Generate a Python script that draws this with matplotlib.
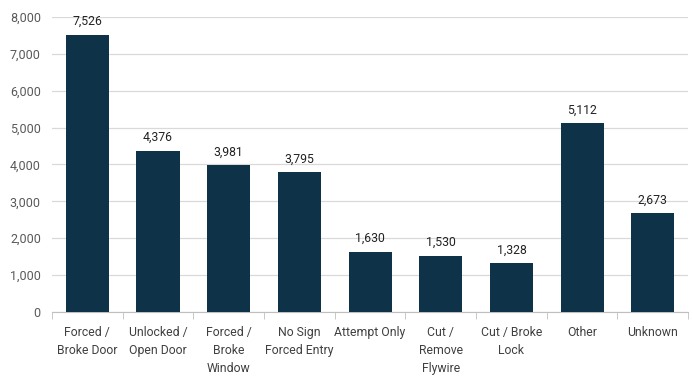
import matplotlib.pyplot as plt
from matplotlib.ticker import FuncFormatter

# Data
categories = ['Forced /\nBroke Door', 'Unlocked /\nOpen Door', 'Forced /\nBroke\nWindow',
              'No Sign\nForced Entry', 'Attempt Only', 'Cut /\nRemove\nFlywire',
              'Cut / Broke\nLock', 'Other', 'Unknown']
counts = [7526, 4376, 3981, 3795, 1630, 1530, 1328, 5112, 2673]

plt.rcParams['font.family'] = ['Roboto', 'DejaVu Sans']

fig = plt.figure(figsize=(6.93, 3.87), dpi=100)
ax = fig.add_axes([0.075, 0.194, 0.918, 0.762])

x = list(range(len(categories)))
bars = ax.bar(x, counts, width=0.61, color='#0e3349', zorder=3)

for xi, v in zip(x, counts):
    ax.text(xi, v + 180, '{:,}'.format(v), ha='center', va='bottom',
            fontsize=8.8, color='#222222')

ax.set_xlim(-0.5, len(categories) - 0.5)
ax.set_ylim(0, 8000)
ax.set_yticks(range(0, 8001, 1000))
ax.yaxis.set_major_formatter(FuncFormatter(lambda v, p: '{:,}'.format(int(v))))
ax.grid(axis='y', color='#d9d9d9', linewidth=0.9, zorder=0)

ax.set_xticks(x)
ax.set_xticklabels(categories, fontsize=8.8, color='#404040', linespacing=1.5)
ax.tick_params(axis='x', length=0, pad=10)
# boundary ticks between categories
ax.set_xticks([i - 0.5 for i in range(len(categories) + 1)], minor=True)
ax.tick_params(axis='x', which='minor', length=5, color='#bfbfbf')
ax.tick_params(axis='y', length=0, labelsize=9, labelcolor='#595959', pad=8)

for s in ['top', 'right', 'left']:
    ax.spines[s].set_visible(False)
ax.spines['bottom'].set_color('#bfbfbf')

fig.savefig('out.png', dpi=100)
